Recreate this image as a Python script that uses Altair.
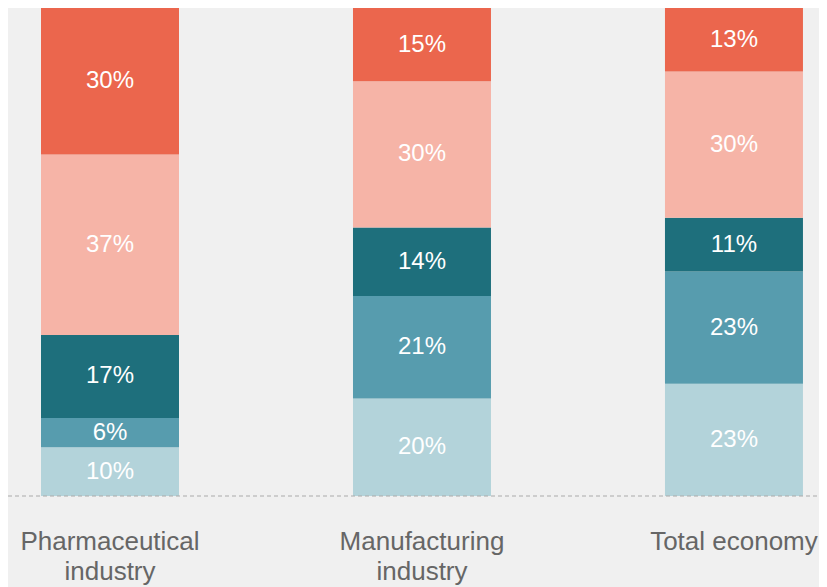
import altair as alt
import pandas as pd

categories = ["Pharmaceutical industry", "Manufacturing industry", "Total economy"]
segments = ["Segment 1", "Segment 2", "Segment 3", "Segment 4", "Segment 5"]  # bottom to top
pharma = [10, 6, 17, 37, 30]
manufacturing = [20, 21, 14, 30, 15]
total_economy = [23, 23, 11, 30, 13]
colors = ["#b3d3da", "#579cae", "#1e6f7c", "#f6b4a7", "#eb664d"]

rows = []
for cat, vals in zip(categories, [pharma, manufacturing, total_economy]):
    for i, (seg, v) in enumerate(zip(segments, vals)):
        rows.append({"category": cat, "segment": seg, "order": i, "value": v,
                     "label": f"{v}%"})
df = pd.DataFrame(rows)

FONT = "Liberation Sans"

xscale = alt.Scale(domain=categories, paddingInner=0.5577, paddingOuter=0.0786, align=0.673)
yscale = alt.Scale(domain=[0, 100])

base = alt.Chart(df).transform_stack(
    stack="value", groupby=["category"], sort=[alt.SortField("order")], as_=["y0", "y1"]
).transform_calculate(mid="(datum.y0 + datum.y1) / 2")

xenc = alt.X("category:N", scale=xscale, sort=categories,
             axis=alt.Axis(title=None, domain=False, ticks=False, labelAngle=0,
                           labelFont=FONT, labelFontSize=26, labelColor="#666666",
                           labelPadding=32, labelLineHeight=30, labelLimit=0,
                           labelExpr="datum.label == 'Total economy' ? datum.label : split(datum.label, ' ')"))

bars = base.mark_bar().encode(
    x=xenc,
    y=alt.Y("y0:Q", scale=yscale, axis=None),
    y2="y1:Q",
    color=alt.Color("segment:N", scale=alt.Scale(domain=segments, range=colors), legend=None),
)

texts = base.mark_text(color="white", fontSize=24, font=FONT, baseline="middle").encode(
    x=alt.X("category:N", scale=xscale, sort=categories),
    y=alt.Y("mid:Q", scale=yscale),
    text="label:N",
)

rule = alt.Chart(pd.DataFrame({"y": [0]})).mark_rule(
    color="#aaaaaa", strokeDash=[4, 3], strokeWidth=1
).encode(y=alt.Y("y:Q", scale=yscale), x=alt.value(0), x2=alt.value(811))

chart = alt.layer(bars, texts, rule).properties(
    width=811, height=488,
    autosize=alt.AutoSizeParams(type="none"),
    padding={"left": 0, "top": 0, "right": 0, "bottom": 91},
).configure(background="#f0f0f0").configure_view(stroke=None)

chart.save("out.html", embed_options={"renderer": "svg", "actions": False})
